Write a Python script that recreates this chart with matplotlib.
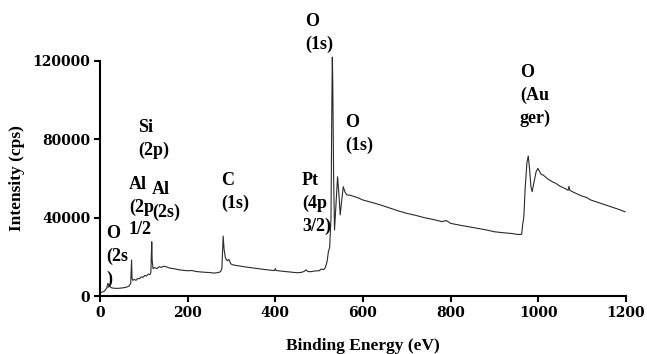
import matplotlib
matplotlib.use("Agg")
import matplotlib.pyplot as plt

# XPS survey spectrum
energy = [0, 5, 10, 15, 18, 20, 25, 30, 40, 50, 60, 66, 70, 71, 72, 73, 75, 78,
          82, 86, 90, 94, 98, 102, 106, 110, 114, 116, 117, 118, 119, 121, 125,
          130, 135, 140, 145, 150, 160, 170, 180, 190, 200, 210, 220, 230, 240,
          250, 260, 270, 275, 278, 280, 281, 283, 286, 290, 294, 298, 302, 310,
          320, 330, 340, 350, 360, 370, 380, 390, 398, 400, 402, 410, 420, 430,
          440, 450, 460, 466, 470, 474, 480, 490, 500, 505, 510, 514, 518, 521,
          524, 527, 529, 530, 531, 533, 535, 538, 542, 545, 548, 551, 555, 559,
          563, 570, 580, 590, 600, 620, 640, 660, 680, 700, 720, 740, 760, 780,
          790, 800, 820, 840, 860, 880, 900, 920, 940, 955, 962, 964, 967, 970,
          974, 977, 980, 983, 986, 990, 995, 999, 1003, 1007, 1011, 1020, 1030,
          1040, 1050, 1060, 1068, 1070, 1072, 1080, 1090, 1100, 1110, 1120, 1140,
          1160, 1180, 1198]
intensity = [1500, 2000, 2500, 4000, 6500, 5500, 4300, 4000, 3900, 4100, 4500,
             5000, 6500, 12000, 18400, 9000, 8000, 8500, 8000, 9000, 8800, 9800,
             9500, 10500, 10200, 11200, 11000, 12000, 20000, 27700, 18000, 14000,
             14500, 14000, 15000, 14600, 15200, 15000, 14200, 13900, 13400, 13100,
             12900, 13000, 12500, 12300, 12100, 12000, 11700, 12000, 12400, 14000,
             25000, 30600, 24000, 19500, 18000, 18700, 16500, 16000, 15600, 15300,
             14900, 14600, 14300, 14000, 13700, 13400, 13200, 13000, 14000, 13000,
             12800, 12500, 12300, 12100, 11900, 12100, 12600, 13400, 12500, 12400,
             12800, 12900, 13800, 13400, 14500, 17500, 22500, 25000, 40000, 100000,
             122000, 110000, 60000, 33700, 45000, 60900, 52000, 41400, 48000, 55800,
             53000, 51600, 51500, 50800, 50000, 49000, 47800, 46500, 45000, 43500,
             42200, 41200, 40000, 39100, 38000, 38500, 37100, 36200, 35400, 34600,
             33800, 32800, 32300, 31900, 31400, 31500, 36000, 40500, 55000, 68000,
             71500, 65000, 56000, 53300, 58000, 63500, 65200, 63500, 62000, 61800,
             60000, 58600, 57500, 56000, 55000, 54000, 56000, 54000, 53000, 52000,
             51000, 50300, 49000, 47500, 46000, 44500, 43000]

peak_labels = ["O\n(2s\n)", "Al\n(2p\n1/2", "Si\n(2p)", "Al\n(2s)", "C\n(1s)",
               "Pt\n(4p\n3/2)", "O\n(1s)", "O\n(1s)", "O\n(Au\nger)"]
label_x = [14, 66, 87, 119, 276, 461, 468, 559, 958]
label_y = [36300, 61300, 90400, 58700, 63300, 63300, 144500, 92900, 118500]

serif = "Liberation Serif"

fig = plt.figure(figsize=(6.47, 3.54), dpi=100)
ax = fig.add_axes([0.1546, 0.1638, 0.8129, 0.6639])

ax.plot(energy, intensity, color="#2a2a2a", lw=0.8, clip_on=False)

for txt, x, y in zip(peak_labels, label_x, label_y):
    ax.text(x, y, txt, ha="left", va="top", fontsize=13, fontweight="bold",
            family=serif, linespacing=1.42, clip_on=False)

ax.set_xlim(0, 1200)
ax.set_ylim(0, 120000)
ax.set_xticks([0, 200, 400, 600, 800, 1000, 1200])
ax.set_yticks([0, 40000, 80000, 120000])

for side in ["top", "right"]:
    ax.spines[side].set_visible(False)
for side in ["left", "bottom"]:
    ax.spines[side].set_linewidth(1.5)

ax.tick_params(axis="both", direction="out", length=4, width=1.5, pad=3)
for lab in ax.get_xticklabels() + ax.get_yticklabels():
    lab.set_family("DejaVu Serif")
    lab.set_fontweight("bold")
    lab.set_fontsize(10)

ax.set_xlabel("Binding Energy (eV)", fontsize=12.5, fontweight="bold",
              family=serif, labelpad=13)
ax.set_ylabel("Intensity (cps)", fontsize=12.5, fontweight="bold",
              family=serif, labelpad=5)

fig.savefig("out.png", dpi=100)
